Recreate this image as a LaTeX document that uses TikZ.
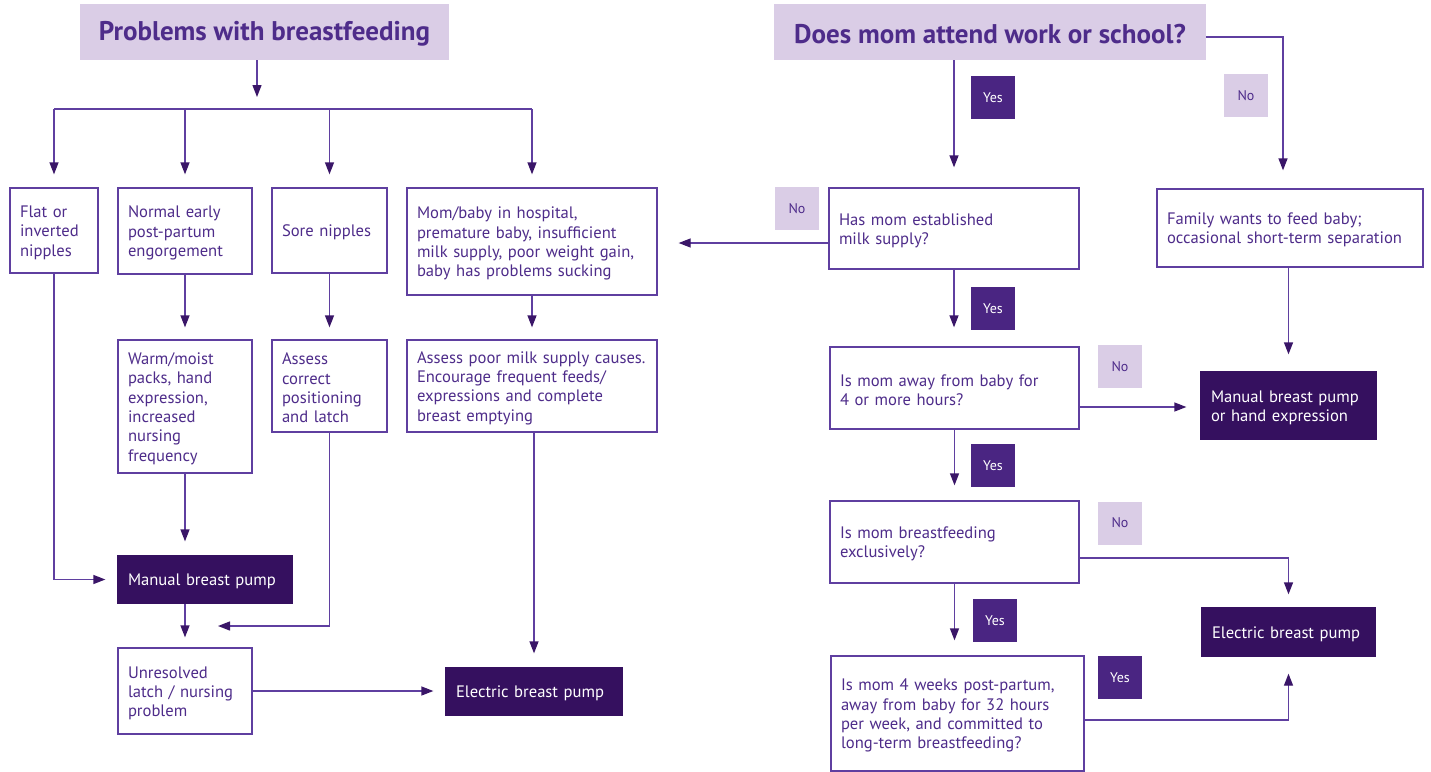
\documentclass[tikz,border=0pt]{standalone}
\usepackage{fontspec}
\setmainfont{PT Sans}
\usetikzlibrary{arrows.meta,calc}
\definecolor{lav}{HTML}{DACDE6}
\definecolor{ptxt}{HTML}{4E2C8A}
\definecolor{pline}{HTML}{5F3FA0}
\definecolor{darkbox}{HTML}{35105F}
\definecolor{yesfill}{HTML}{4A2582}
\definecolor{tipc}{HTML}{3A1668}
\tikzset{
 box/.style={draw=pline, line width=1.3pt, fill=white, text=ptxt, align=left, inner xsep=10pt, inner ysep=0pt, font=\fontsize{16.6}{19.3}\selectfont, execute at begin node={\rule{0pt}{16pt}}},
 darkbx/.style={box, fill=darkbox, draw=darkbox, text=white},
 titlebox/.style={fill=lav, text=ptxt, font=\fontsize{27}{32}\selectfont\bfseries, inner sep=0pt, execute at begin node={\rule{0pt}{23pt}}},
 lbl/.style={minimum width=44pt, minimum height=43pt, inner sep=0pt, font=\fontsize{14}{16}\selectfont},
 yeslbl/.style={lbl, fill=yesfill, text=white},
 nolbl/.style={lbl, fill=lav, text=ptxt},
 conn/.style={draw=pline, line width=1.3pt, -{Triangle[length=12pt,width=9pt,fill=tipc,color=tipc]}},
 plain/.style={draw=pline, line width=1.3pt},
}
\begin{document}
\begin{tikzpicture}[x=1pt,y=-1pt]
\useasboundingbox (0,0) rectangle (1431,771);
% left
\node[titlebox, minimum width=369pt, minimum height=56pt] (t1) at (264.5,32) {Problems with breastfeeding};
\node[box, minimum height=85pt, text width=68pt] (flat) at (54,230.5) {Flat or\\inverted\\nipples};
\node[box, minimum height=86pt, text width=114pt] (normal) at (185,231) {Normal early\\post-partum\\engorgement};
\node[box, minimum height=85pt, text width=95pt] (sore) at (329.5,230.5) {Sore nipples};
\node[box, minimum height=107pt, text width=230pt] (mombaby) at (532,241.5) {Mom/baby in hospital,\\premature baby, insufficient\\milk supply, poor weight gain,\\baby has problems sucking};
\node[box, minimum height=133pt, text width=114pt] (warm) at (185,406.5) {Warm/moist\\packs, hand\\expression,\\increased\\nursing\\frequency};
\node[box, minimum height=92pt, text width=95pt] (assess) at (329.5,386) {Assess\\correct\\positioning\\and latch};
\node[box, minimum height=92pt, text width=230pt] (poor) at (532,386) {Assess poor milk supply causes.\\Encourage frequent feeds/\\expressions and complete\\breast emptying};
\node[darkbx, minimum height=47pt, text width=154pt] (manual) at (205,579.5) {Manual breast pump};
\node[box, minimum height=86pt, text width=114pt] (unres) at (185,691) {Unresolved\\latch / nursing\\problem};
\node[darkbx, minimum height=47pt, text width=156pt] (elec1) at (534,691.5) {Electric breast pump};
% right
\node[titlebox, minimum width=432pt, minimum height=56pt] (t2) at (990,32) {Does mom attend work or school?};
\node[box, minimum height=81pt, text width=230pt] (hasmom) at (954,228.5) {Has mom established\\milk supply?};
\node[box, minimum height=78pt, text width=246pt] (family) at (1290,228) {Family wants to feed baby;\\occasional short-term separation};
\node[box, minimum height=82pt, text width=229pt] (away) at (954.5,388) {Is mom away from baby for\\4 or more hours?};
\node[darkbx, minimum height=67pt, text width=155pt] (manual2) at (1288.5,405.5) {Manual breast pump\\or hand expression};
\node[box, minimum height=82pt, text width=229pt] (excl) at (954.5,542) {Is mom breastfeeding\\exclusively?};
\node[darkbx, minimum height=48pt, text width=153pt] (elec2) at (1288.5,632) {Electric breast pump};
\node[box, minimum height=115pt, text width=233pt] (weeks) at (957.5,713.5) {Is mom 4 weeks post-partum,\\away from baby for 32 hours\\per week, and committed to\\long-term breastfeeding?};
% labels
\node[yeslbl] (yes1) at (993,97.5) {Yes};
\node[nolbl] (no1) at (1246,95.5) {No};
\node[nolbl] (no2) at (797,208.5) {No};
\node[yeslbl] (yes2) at (993,308.5) {Yes};
\node[nolbl] (no3) at (1120,366.5) {No};
\node[yeslbl] (yes3) at (993,465.5) {Yes};
\node[nolbl] (no4) at (1120,523) {No};
\node[yeslbl] (yes4) at (995,620.5) {Yes};
\node[yeslbl] (yes5) at (1120,677.5) {Yes};
% left connectors
\coordinate (split) at (257,109);
\coordinate (joinL) at (218,626);
\draw[conn, shorten >=12pt] (t1.south -| split) -- (split);
\draw[plain] (split -| flat.north) -- (split -| mombaby.north);
\foreach \n in {flat,normal,sore,mombaby}
  \draw[conn, shorten >=13pt] (split -| \n.north) -- (\n.north);
\draw[conn, shorten >=12pt] (normal) -- (warm);
\draw[conn, shorten >=12pt] (sore) -- (assess);
\draw[conn, shorten >=12pt] (mombaby) -- (poor);
\draw[conn, shorten >=12pt] (flat.south) |- (manual.west);
\draw[conn, shorten >=14pt] (warm.south) -- (warm.south |- manual.north);
\draw[conn, shorten >=10pt] (manual.south -| unres.north) -- (unres.north);
\draw[conn] (assess.south) |- (joinL);
\draw[conn, shorten >=14pt] (poor.south -| elec1.north) -- (elec1.north);
\draw[conn, shorten >=12pt] (unres.east) -- (unres.east -| elec1.west);
% right connectors
\draw[conn, shorten >=20pt] (t2.south -| hasmom.north) -- (hasmom.north);
\draw[conn, shorten >=18pt] ([yshift=-5pt]t2.east) -| ([xshift=-7pt]family.north);
\draw[conn, shorten >=17pt] (family.south -| manual2.north) -- (manual2.north);
\draw[conn, shorten >=21pt] ([yshift=-14.5pt]hasmom.west) -- ([yshift=-14.5pt]hasmom.west -| mombaby.east);
\draw[conn, shorten >=19pt] (hasmom.south) -- (hasmom.south |- away.north);
\draw[conn, shorten >=14pt] ([yshift=-19pt]away.east) -- ([yshift=-19pt]away.east -| manual2.west);
\draw[conn, shorten >=15pt] (away.south) -- (away.south |- excl.north);
\draw[conn, shorten >=13pt] ([yshift=-16pt]excl.east) -| (elec2.north);
\draw[conn, shorten >=15pt] (excl.south) -- (excl.south |- weeks.north);
\draw[conn, shorten >=17pt] ([yshift=-6.5pt]weeks.east) -| (elec2.south);
\end{tikzpicture}
\end{document}
